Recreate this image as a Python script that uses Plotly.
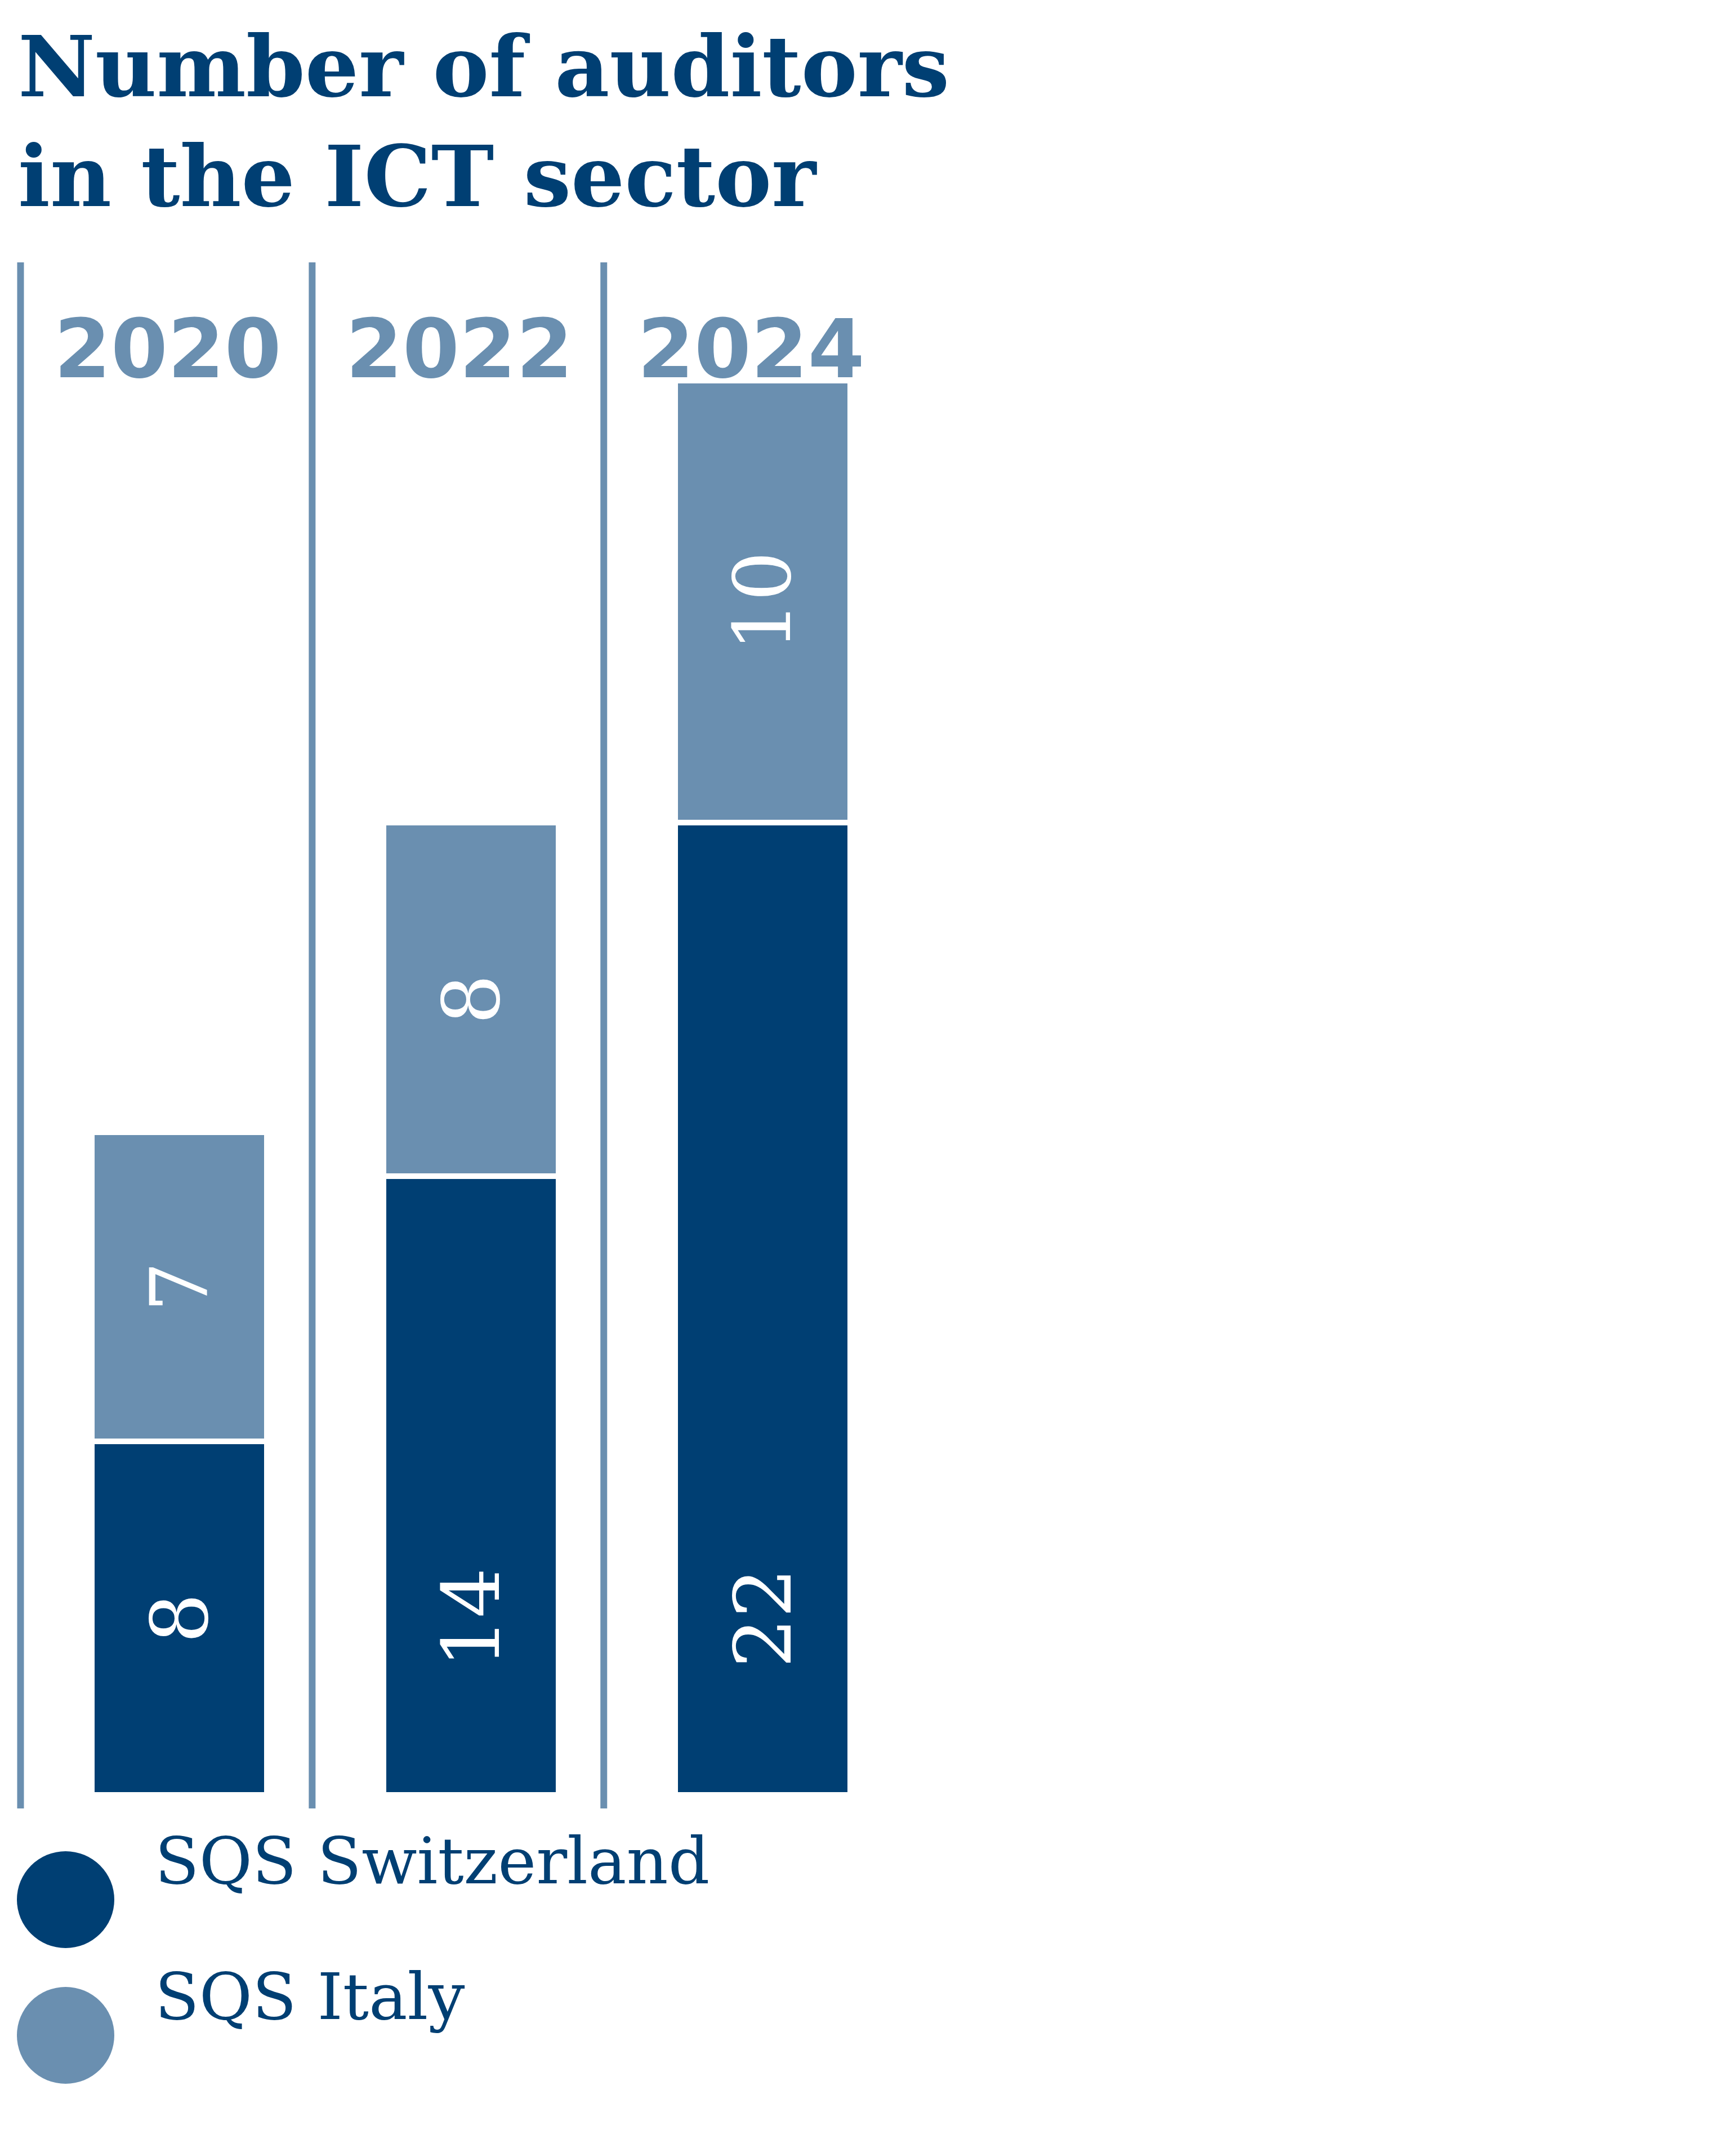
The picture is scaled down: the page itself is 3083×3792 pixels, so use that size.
import plotly.graph_objects as go

years = ["2020", "2022", "2024"]
switzerland = [8, 14, 22]
italy = [7, 8, 10]

DARK = "#003f73"
LIGHT = "#6a8fb0"
W, H = 3083, 3792
BOTTOM = 3180   # pixel of y=0
TOP = 458       # pixel of plot top
PLOT_H = BOTTOM - TOP

def py(p):
    return (BOTTOM - p) / PLOT_H

def px(p):
    return p / W

xs = list(range(len(years)))

fig = go.Figure()
fig.add_trace(go.Bar(x=xs, y=switzerland, name="SQS Switzerland", width=0.6,
                     marker=dict(color=DARK, line=dict(color="white", width=10))))
fig.add_trace(go.Bar(x=xs, y=italy, name="SQS Italy", width=0.6,
                     marker=dict(color=LIGHT, line=dict(color="white", width=10))))

# value labels
for i in xs:
    fig.add_annotation(x=i, y=4, text=str(switzerland[i]), textangle=-90, showarrow=False,
                       font=dict(family="DejaVu Serif", size=140, color="white"))
    fig.add_annotation(x=i, y=switzerland[i] + italy[i] / 2, text=str(italy[i]), textangle=-90,
                       showarrow=False, font=dict(family="DejaVu Serif", size=140, color="white"))
    # year headers
    fig.add_annotation(x=i - 0.04, y=py(525), yref="paper", text="<b>%s</b>" % years[i],
                       showarrow=False, font=dict(family="DejaVu Sans", size=145, color=LIGHT))
    # separator lines
    fig.add_shape(type="line", x0=i - 0.545, x1=i - 0.545, y0=py(3204), y1=py(458),
                  yref="paper", line=dict(color=LIGHT, width=12))

# title
fig.add_annotation(x=px(22), y=py(20), xref="paper", yref="paper", xanchor="left", yanchor="top",
                   align="left", showarrow=False,
                   text="<b>Number of auditors<br>in the ICT sector</b>",
                   font=dict(family="DejaVu Serif", size=150, color=DARK))

# legend
for name, color, cy in [("SQS Switzerland", DARK, 3366), ("SQS Italy", LIGHT, 3607)]:
    fig.add_shape(type="circle", xref="paper", yref="paper", x0=px(22), x1=px(195),
                  y0=py(cy + 86), y1=py(cy - 86), fillcolor=color, line=dict(width=0))
    fig.add_annotation(x=px(265), y=py(cy), xref="paper", yref="paper", xanchor="left",
                       showarrow=False, text=name,
                       font=dict(family="DejaVu Serif", size=115, color=DARK))

fig.update_layout(
    width=W, height=H, barmode="stack", showlegend=False,
    paper_bgcolor="white", plot_bgcolor="white",
    margin=dict(l=0, r=0, t=TOP, b=H - BOTTOM),
    xaxis=dict(range=[-0.6, 5.353], visible=False),
    yaxis=dict(range=[0, PLOT_H / 78.5], visible=False),
)

fig.write_html("out.html")
